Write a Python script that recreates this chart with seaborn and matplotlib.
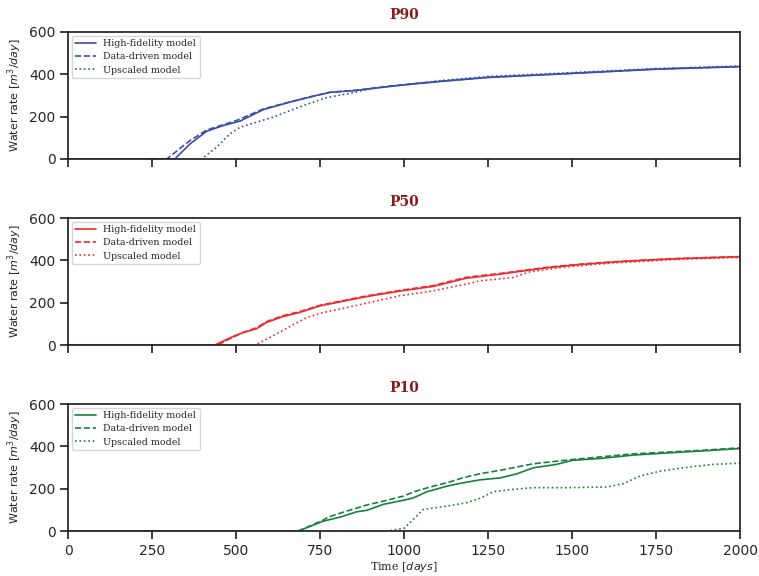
import numpy as np
import pandas as pd
import seaborn as sns
import matplotlib.pyplot as plt

# Time [days] / water rate [m3/day]
# P90
p90_hf_t = [0, 318, 363, 413, 462, 512, 581, 661, 729, 780, 859, 958, 1038, 1107, 1250, 1500, 1750, 2000]
p90_hf_q = [0, 0, 71, 131, 158, 179, 233, 269, 296, 315, 324, 343, 356, 366, 385, 404, 424, 436]
p90_dd_t = [0, 294, 363, 413, 502, 581, 661, 729, 780, 859, 958, 1038, 1107, 1250, 1500, 1750, 2000]
p90_dd_q = [0, 0, 87, 137, 182, 236, 270, 297, 315, 325, 344, 357, 367, 386, 405, 425, 437]
p90_up_t = [0, 398, 442, 482, 512, 562, 611, 661, 710, 770, 829, 909, 988, 1107, 1250, 1500, 1750, 2000]
p90_up_q = [0, 0, 55, 119, 150, 174, 198, 229, 258, 290, 307, 334, 348, 370, 390, 408, 427, 439]

# P50
p50_hf_t = [0, 437, 492, 522, 562, 591, 641, 690, 750, 810, 889, 988, 1087, 1186, 1286, 1425, 1524, 1623, 1722, 1821, 2000]
p50_hf_q = [0, 0, 41, 59, 78, 107, 135, 154, 185, 204, 229, 255, 277, 316, 335, 365, 380, 392, 401, 408, 417]
p50_dd_t = [0, 445, 492, 522, 562, 591, 641, 690, 750, 810, 889, 988, 1087, 1186, 1286, 1425, 1524, 1623, 1722, 1821, 2000]
p50_dd_q = [0, 0, 38, 60, 82, 111, 139, 158, 188, 207, 232, 258, 281, 320, 338, 367, 382, 393, 402, 409, 418]
p50_up_t = [0, 557, 611, 661, 710, 760, 810, 889, 988, 1087, 1186, 1226, 1325, 1375, 1474, 1623, 1821, 2000]
p50_up_q = [0, 0, 44, 88, 130, 154, 170, 198, 233, 256, 288, 303, 319, 346, 368, 388, 405, 414]

# P10
p10_hf_t = [0, 685, 760, 810, 859, 889, 938, 1008, 1028, 1067, 1127, 1176, 1226, 1286, 1335, 1385, 1454, 1500, 1583, 1683, 1782, 1881, 2000]
p10_hf_q = [0, 0, 47, 66, 91, 98, 126, 149, 157, 185, 212, 228, 242, 251, 270, 299, 315, 334, 343, 359, 369, 378, 390]
p10_dd_t = [0, 685, 760, 774, 829, 889, 948, 998, 1028, 1077, 1127, 1176, 1226, 1286, 1385, 1500, 1683, 1881, 2000]
p10_dd_q = [0, 0, 52, 66, 94, 123, 145, 165, 185, 208, 228, 252, 271, 287, 318, 338, 365, 381, 393]
p10_up_t = [0, 948, 1000, 1028, 1057, 1127, 1186, 1226, 1266, 1325, 1385, 1484, 1603, 1653, 1702, 1762, 1831, 1920, 2000]
p10_up_q = [0, 0, 13, 55, 102, 118, 134, 155, 186, 197, 205, 205, 208, 224, 260, 283, 299, 315, 321]

panel_names = ["P90", "P50", "P10"]
panel_colors = ["#3a4fa8", "#ee2a2f", "#17813e"]
model_names = ["High-fidelity model", "Data-driven model", "Upscaled model"]
model_styles = ["-", "--", ":"]

panels = [
    [(p90_hf_t, p90_hf_q), (p90_dd_t, p90_dd_q), (p90_up_t, p90_up_q)],
    [(p50_hf_t, p50_hf_q), (p50_dd_t, p50_dd_q), (p50_up_t, p50_up_q)],
    [(p10_hf_t, p10_hf_q), (p10_dd_t, p10_dd_q), (p10_up_t, p10_up_q)],
]

sns.set_theme(style="ticks")
plt.rcParams['font.family'] = ['DejaVu Sans']

fig = plt.figure(figsize=(7.59, 5.76), dpi=100)
bottoms = [0.724, 0.401, 0.078]
axes = [fig.add_axes([0.0896, b, 0.8854, 0.2205]) for b in bottoms]

for ax, name, color, series in zip(axes, panel_names, panel_colors, panels):
    for (t, q), label, ls in zip(series, model_names, model_styles):
        df = pd.DataFrame({"t": t, "q": q})
        sns.lineplot(data=df, x="t", y="q", color=color, linestyle=ls,
                     linewidth=1.2, label=label, ax=ax)
    ax.set_xlim(0, 2000)
    ax.set_ylim(0, 600)
    ax.set_yticks([0, 200, 400, 600])
    ax.set_xticks(np.arange(0, 2001, 250))
    ax.tick_params(labelsize=10, pad=3)
    ax.set_title(name, family="DejaVu Serif", fontweight="bold", color="#8b1a1a",
                 fontsize=10, pad=9)
    ax.set_ylabel("Water rate [$m^3/day$]", fontsize=8, labelpad=4)
    ax.set_xlabel("")
    ax.legend(loc="upper left", prop={"family": "DejaVu Serif", "size": 6.8},
              frameon=True, handlelength=2.2, labelspacing=0.45, borderpad=0.35,
              borderaxespad=0.4)
    for s in ax.spines.values():
        s.set_color("#222222")

for ax in axes[:2]:
    ax.tick_params(labelbottom=False)

axes[2].set_xlabel("Time [$days$]", family="DejaVu Serif", fontsize=8, labelpad=2)

fig.savefig("out.png", dpi=100)
